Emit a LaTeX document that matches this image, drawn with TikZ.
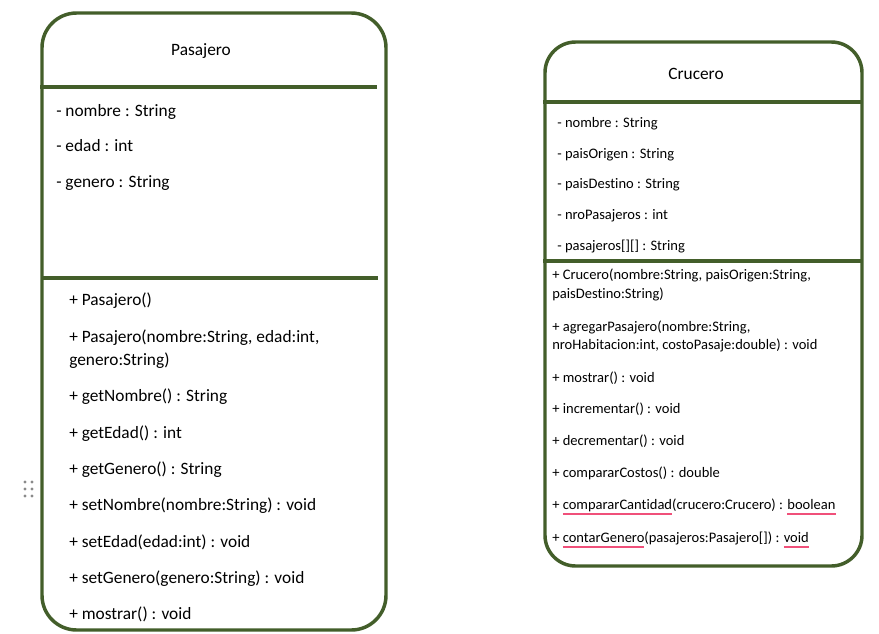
\documentclass[tikz,border=0pt]{standalone}
\usepackage{fontspec}
\setmainfont{Carlito}[Ligatures=CommonOff]
\definecolor{umlgreen}{HTML}{435E2A}
\definecolor{ulred}{HTML}{F0507A}
\definecolor{dotgray}{HTML}{8A8A8A}
\newsavebox\ulbox
\newcommand\redul[1]{\sbox\ulbox{#1}\rlap{\color{ulred}\rule[-4.3pt]{\wd\ulbox}{1.1pt}}\usebox\ulbox}
\begin{document}
\begin{tikzpicture}[x=0.75pt,y=-0.75pt,
  umlbox/.style={draw=umlgreen,line width=2.6pt},
  sepline/.style={draw=umlgreen,line width=2.4pt},
  bigtxt/.style={font=\fontsize{13}{15}\selectfont,inner sep=0pt,anchor=base west},
  smalltxt/.style={font=\fontsize{10.9}{13}\selectfont,inner sep=0pt,anchor=base west},
  titletxt/.style={font=\fontsize{13}{15}\selectfont,inner sep=0pt,anchor=base}]
\useasboundingbox (0,0) rectangle (879,633);
\fill[white] (0,0) rectangle (879,633);

% ---------------- Pasajero ----------------
\draw[umlbox,rounded corners=26pt] (42,13) rectangle (386,630);
\draw[sepline] (40,87) -- (377,87);
\draw[sepline] (42,278) -- (378,278);
\node[titletxt] (ptitle) at (201,55) {Pasajero};
\node[bigtxt] (pa1) at (56,116) {- nombre : String};
\node[bigtxt] (pa2) at (56,151) {- edad : int};
\node[bigtxt] (pa3) at (56,187) {- genero : String};
\node[bigtxt] (pm1) at (69,305) {+ Pasajero()};
\node[bigtxt] (pm2a) at (69,342) {+ Pasajero(nombre:String, edad:int,};
\node[bigtxt] (pm2b) at (69,365) {genero:String)};
\node[bigtxt] (pm3) at (69,401) {+ getNombre() : String};
\node[bigtxt] (pm4) at (69,438) {+ getEdad() : int};
\node[bigtxt] (pm5) at (69,474) {+ getGenero() : String};
\node[bigtxt] (pm6) at (69,510) {+ setNombre(nombre:String) : void};
\node[bigtxt] (pm7) at (69,547) {+ setEdad(edad:int) : void};
\node[bigtxt] (pm8) at (69,583) {+ setGenero(genero:String) : void};
\node[bigtxt] (pm9) at (69,619) {+ mostrar() : void};

% drag handle dots
\foreach \dx in {25,32} \foreach \dy in {482,489,496}
  \fill[dotgray] (\dx,\dy) circle (1.3pt);

% ---------------- Crucero ----------------
\draw[umlbox,rounded corners=23pt] (545,42) rectangle (862,566);
\draw[sepline] (543,102) -- (862,102);
\draw[sepline] (543,261) -- (862,261);
\node[titletxt] (ctitle) at (696,79) {Crucero};
\node[smalltxt] (ca1) at (557,127) {- nombre : String};
\node[smalltxt] (ca2) at (557,158) {- paisOrigen : String};
\node[smalltxt] (ca3) at (557,188) {- paisDestino : String};
\node[smalltxt] (ca4) at (557,219) {- nroPasajeros : int};
\node[smalltxt] (ca5) at (557,250) {- pasajeros[][] : String};
\node[smalltxt] (cm1a) at (552,279) {+ Crucero(nombre:String, paisOrigen:String,};
\node[smalltxt] (cm1b) at (552,298) {paisDestino:String)};
\node[smalltxt] (cm2a) at (552,331) {+ agregarPasajero(nombre:String,};
\node[smalltxt] (cm2b) at (552,349) {nroHabitacion:int, costoPasaje:double) : void};
\node[smalltxt] (cm3) at (552,382) {+ mostrar() : void};
\node[smalltxt] (cm4) at (552,413) {+ incrementar() : void};
\node[smalltxt] (cm5) at (552,445) {+ decrementar() : void};
\node[smalltxt] (cm6) at (552,477) {+ compararCostos() : double};
\node[smalltxt] (cm7) at (552,509) {+ \redul{compararCantidad}(crucero:Crucero) : \redul{boolean}};
\node[smalltxt] (cm8) at (552,542) {+ \redul{contarGenero}(pasajeros:Pasajero[]) : \redul{void}};
\end{tikzpicture}
\end{document}
